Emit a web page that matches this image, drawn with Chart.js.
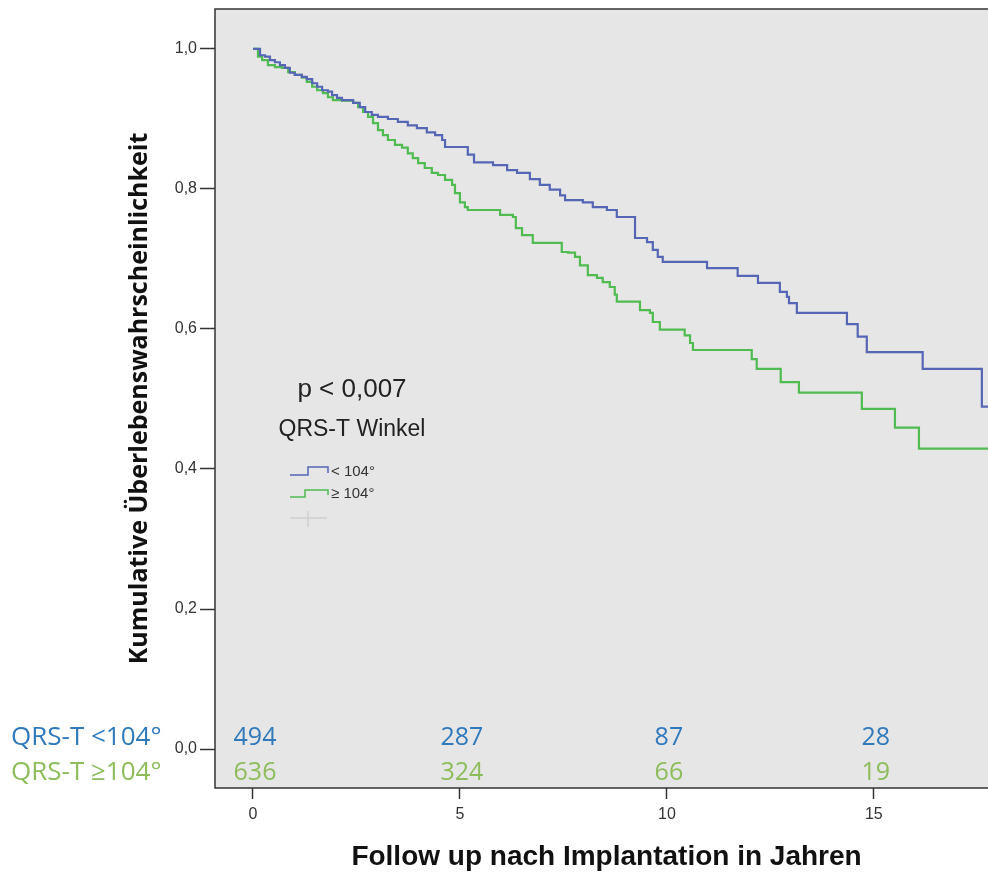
<!DOCTYPE html>
<html>
<head>
<meta charset="utf-8">
<script src="https://cdn.jsdelivr.net/npm/chart.js@4/dist/chart.umd.min.js"></script>
<style>
  html, body { margin: 0; padding: 0; background: #fff; overflow: hidden; }
  #wrap { width: 998px; height: 876px; }
</style>
</head>
<body>
<div id="wrap"><canvas id="chartKM" width="998" height="876"></canvas></div>
<script>
// Achsen
const xTicks = [0, 5, 10, 15];
const yTicks = [0, 0.2, 0.4, 0.6, 0.8, 1.0];

// Kaplan-Meier QRS-T < 104°
const blueZeit = [0, 0.17, 0.29, 0.41, 0.53, 0.65, 0.77, 0.89, 1.01, 1.18, 1.30, 1.43, 1.55, 1.67, 1.81,
  1.91, 2.03, 2.15, 2.42, 2.58, 2.71, 2.87, 3.02, 3.26, 3.50, 3.74, 3.96, 4.20, 4.40, 4.57, 4.64,
  5.19, 5.34, 5.80, 6.14, 6.38, 6.69, 6.93, 7.17, 7.42, 7.54, 7.97, 8.21, 8.55, 8.79, 9.23, 9.52,
  9.66, 9.78, 9.90, 10.97, 11.71, 12.20, 12.73, 12.90, 12.95, 13.14, 14.35, 14.61, 14.83, 16.18,
  17.61, 18.0];
const blueSurv = [1.000, 0.991, 0.989, 0.984, 0.981, 0.977, 0.973, 0.966, 0.963, 0.960, 0.957, 0.951,
  0.946, 0.941, 0.939, 0.934, 0.930, 0.927, 0.923, 0.917, 0.910, 0.906, 0.903, 0.900, 0.896, 0.891,
  0.887, 0.881, 0.877, 0.870, 0.860, 0.849, 0.838, 0.834, 0.827, 0.823, 0.814, 0.806, 0.799, 0.791,
  0.784, 0.781, 0.774, 0.770, 0.760, 0.730, 0.724, 0.713, 0.703, 0.696, 0.687, 0.676, 0.666, 0.653,
  0.646, 0.637, 0.623, 0.607, 0.589, 0.567, 0.543, 0.489, 0.489];

// Kaplan-Meier QRS-T >= 104°
const greenZeit = [0, 0.12, 0.22, 0.36, 0.53, 0.70, 0.85, 1.01, 1.18, 1.30, 1.43, 1.55, 1.69, 1.81,
  1.93, 2.15, 2.42, 2.54, 2.66, 2.78, 2.90, 3.02, 3.14, 3.26, 3.43, 3.60, 3.74, 3.86, 3.99, 4.15,
  4.32, 4.47, 4.64, 4.81, 4.88, 5.00, 5.12, 5.19, 5.97, 6.28, 6.35, 6.50, 6.76, 7.46, 7.61, 7.78,
  7.90, 8.09, 8.31, 8.45, 8.62, 8.74, 8.79, 9.35, 9.59, 9.66, 9.83, 10.43, 10.56, 10.63, 12.05,
  12.17, 12.75, 13.19, 14.71, 15.51, 16.09, 18.0];
const greenSurv = [1.000, 0.989, 0.984, 0.977, 0.974, 0.973, 0.967, 0.963, 0.959, 0.953, 0.946, 0.941,
  0.937, 0.931, 0.927, 0.926, 0.923, 0.917, 0.910, 0.903, 0.894, 0.884, 0.877, 0.870, 0.863, 0.859,
  0.851, 0.844, 0.837, 0.830, 0.823, 0.820, 0.813, 0.806, 0.794, 0.781, 0.774, 0.770, 0.763, 0.760,
  0.744, 0.734, 0.723, 0.710, 0.709, 0.703, 0.691, 0.677, 0.673, 0.667, 0.660, 0.649, 0.639, 0.627,
  0.623, 0.610, 0.599, 0.591, 0.580, 0.570, 0.557, 0.543, 0.524, 0.509, 0.486, 0.459, 0.429, 0.429];

// Patienten unter Risiko
const riskZeit = [0, 5, 10, 15];
const riskBlue = [494, 287, 87, 28];
const riskGreen = [636, 324, 66, 19];
const gruppen = ["QRS-T <104°", "QRS-T \u2265104°"];
const legendeText = ["< 104°", "\u2265 104°"];

const BLAU = "#5566b4";
const GRUEN = "#4fbb50";
const BLAU_TXT = "#3079bb";
const GRUEN_TXT = "#8dbd5b";

const toPts = (t, s) => t.map((v, i) => ({ x: v, y: s[i] }));

const extras = {
  id: "extras",
  beforeDraw(chart) {
    const { ctx, chartArea: a } = chart;
    ctx.save();
    ctx.fillStyle = "#e6e6e6";
    ctx.fillRect(a.left, a.top, a.right - a.left, a.bottom - a.top);
    ctx.restore();
  },
  afterDraw(chart) {
    const { ctx, chartArea: a } = chart;
    const xs = chart.scales.x;
    ctx.save();
    // Rahmen
    ctx.strokeStyle = "#333";
    ctx.lineWidth = 1.5;
    ctx.strokeRect(a.left, a.top, a.right - a.left, a.bottom - a.top);

    // Zahlen unter Risiko
    ctx.font = "25px 'Open Sans'";
    ctx.textBaseline = "alphabetic";
    ctx.textAlign = "center";
    riskZeit.forEach((t, i) => {
      const px = xs.getPixelForValue(t);
      ctx.fillStyle = BLAU_TXT;
      ctx.fillText(String(riskBlue[i]), px + 2, 745);
      ctx.fillStyle = GRUEN_TXT;
      ctx.fillText(String(riskGreen[i]), px + 2, 780);
    });
    ctx.textAlign = "left";
    ctx.font = "26px 'Open Sans'";
    ctx.fillStyle = BLAU_TXT;
    ctx.fillText(gruppen[0], 11, 745);
    ctx.fillStyle = GRUEN_TXT;
    ctx.fillText(gruppen[1], 11, 780);

    // Legende
    ctx.fillStyle = "#222";
    ctx.textAlign = "center";
    ctx.textBaseline = "middle";
    ctx.font = "26px 'Liberation Sans', Arial";
    ctx.fillText("p < 0,007", 352, 390);
    ctx.font = "23px 'Liberation Sans', Arial";
    ctx.fillText("QRS-T Winkel", 352, 430);

    ctx.lineWidth = 1.5;
    ctx.strokeStyle = BLAU;
    ctx.beginPath();
    ctx.moveTo(290, 475); ctx.lineTo(308, 475); ctx.lineTo(308, 467);
    ctx.lineTo(328, 467); ctx.lineTo(328, 473);
    ctx.stroke();
    ctx.strokeStyle = GRUEN;
    ctx.beginPath();
    ctx.moveTo(290, 497); ctx.lineTo(305, 497); ctx.lineTo(305, 490);
    ctx.lineTo(328, 490); ctx.lineTo(328, 495);
    ctx.stroke();
    ctx.strokeStyle = "#cfcfcf";
    ctx.beginPath();
    ctx.moveTo(290, 518); ctx.lineTo(327, 518);
    ctx.moveTo(308, 511); ctx.lineTo(308, 527);
    ctx.stroke();

    ctx.textAlign = "left";
    ctx.fillStyle = "#333";
    ctx.font = "15px 'Liberation Sans', Arial";
    ctx.fillText(legendeText[0], 331, 472);
    ctx.fillText(legendeText[1], 331, 494);
    ctx.restore();
  },
};

new Chart(document.getElementById("chartKM"), {
  type: "line",
  data: {
    datasets: [
      {
        label: legendeText[0],
        data: toPts(blueZeit, blueSurv),
        borderColor: BLAU,
        borderWidth: 2.2,
        stepped: "before",
        pointRadius: 0,
        fill: false,
      },
      {
        label: legendeText[1],
        data: toPts(greenZeit, greenSurv),
        borderColor: GRUEN,
        borderWidth: 2.2,
        stepped: "before",
        pointRadius: 0,
        fill: false,
      },
    ],
  },
  options: {
    responsive: false,
    animation: false,
    devicePixelRatio: 1,
    layout: { padding: { top: 9, right: 0, left: 0, bottom: 0 } },
    plugins: { legend: { display: false }, tooltip: { enabled: false } },
    scales: {
      x: {
        type: "linear",
        min: -0.918,
        max: 18,
        afterBuildTicks: (s) => { s.ticks = xTicks.map((v) => ({ value: v })); },
        afterFit: (s) => { s.height = 88; s.paddingLeft = 0; s.paddingRight = 0; },
        border: { display: false },
        grid: { drawOnChartArea: false, tickLength: 11, tickColor: "#333", tickWidth: 1.5 },
        ticks: { color: "#333", padding: 6, font: { family: "'Liberation Sans', Arial", size: 16 } },
        title: {
          display: true,
          text: "Follow up nach Implantation in Jahren",
          color: "#111",
          font: { family: "'Liberation Sans', Arial", size: 28, weight: "bold" },
          padding: { top: 0, bottom: 2 },
        },
      },
      y: {
        min: -0.0557,
        max: 1.0571,
        afterBuildTicks: (s) => { s.ticks = yTicks.map((v) => ({ value: v })); },
        afterFit: (s) => { s.width = 215; s.paddingTop = 0; s.paddingBottom = 0; },
        border: { display: false },
        grid: { drawOnChartArea: false, tickLength: 15, tickColor: "#333", tickWidth: 1.5 },
        ticks: {
          color: "#333",
          padding: 3,
          font: { family: "'Liberation Sans', Arial", size: 16 },
          callback: (v) => v.toFixed(1).replace(".", ","),
        },
        title: {
          display: true,
          text: "Kumulative Überlebenswahrscheinlichkeit",
          color: "#111",
          font: { family: "'Open Sans'", size: 25, weight: "bold" },
          padding: { top: 125, bottom: 0 },
        },
      },
    },
  },
  plugins: [extras],
});
</script>
</body>
</html>
